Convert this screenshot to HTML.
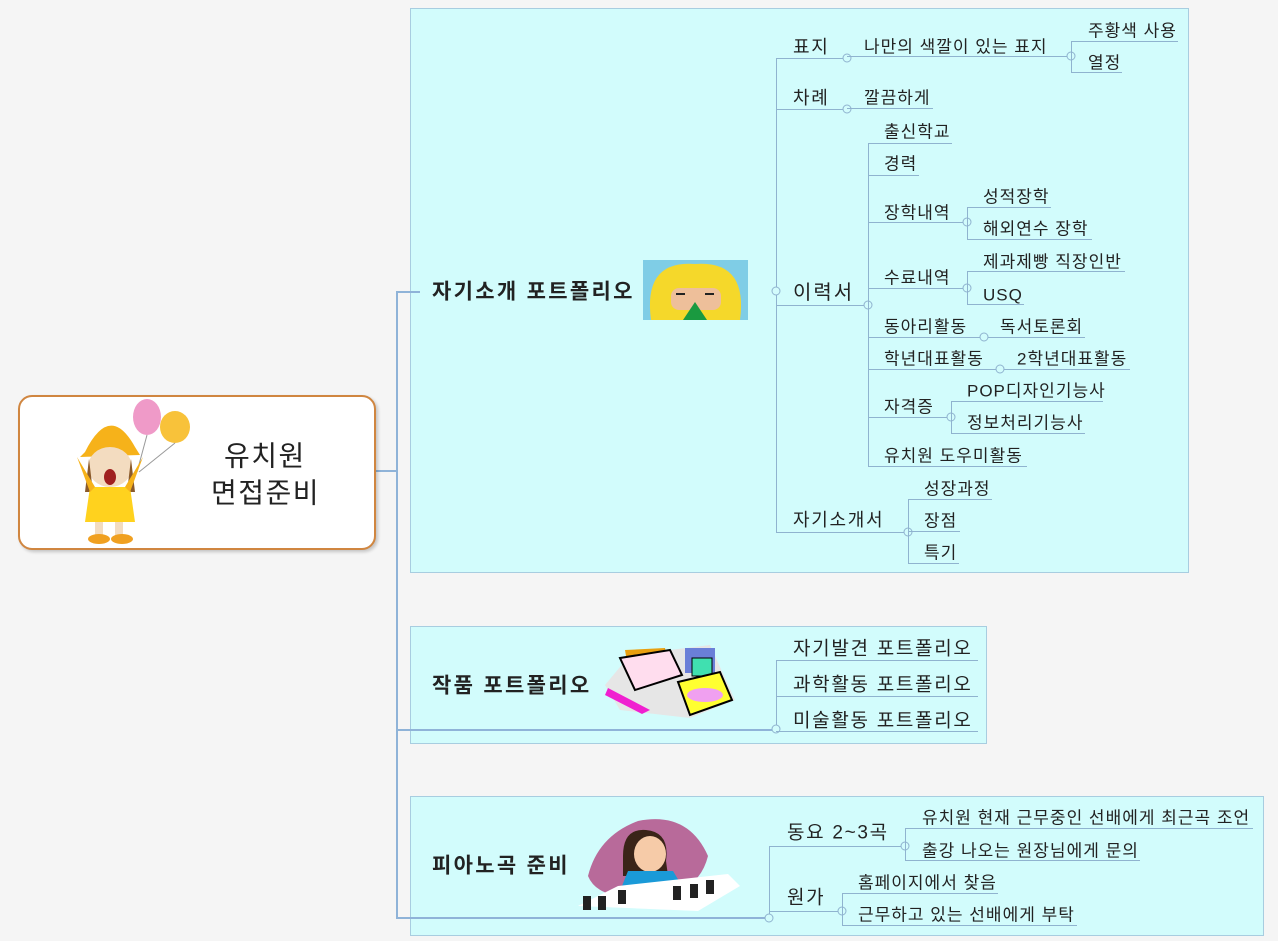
<!DOCTYPE html>
<html><head><meta charset="utf-8">
<style>
body{margin:0;width:1278px;height:941px;background:#f5f5f5;position:relative;overflow:hidden;font-family:"Liberation Sans","Noto Sans CJK KR","NanumGothic",sans-serif;color:#222}
.p{position:absolute;background:#d2fcfc;border:1px solid #a8cde0}
.t{position:absolute;transform:translateY(-45%);white-space:nowrap;font-size:17px;line-height:1;letter-spacing:1px}
.l{font-size:19px;letter-spacing:1.7px}
.h{position:absolute;height:1px;background:#8fb3cf}
.v{position:absolute;width:1px;background:#8fb3cf}
.c{position:absolute;width:7px;height:7px;border:1px solid #8fb3cf;border-radius:50%;background:#d2fcfc;transform:translate(-50%,-50%)}
.m{position:absolute;background:#8fb3d8}
.b{font-size:21px;font-weight:bold;letter-spacing:2.3px}
</style></head><body>
<div class="p" style="left:410px;top:8px;width:777px;height:563px"></div>
<div class="p" style="left:410px;top:626px;width:575px;height:116px"></div>
<div class="p" style="left:410px;top:796px;width:852px;height:138px"></div>

<div class="m" style="left:375px;top:470px;width:23px;height:2px"></div>
<div class="m" style="left:396px;top:291px;width:2px;height:628px"></div>
<div class="m" style="left:396px;top:291px;width:24px;height:2px"></div>
<div class="m" style="left:396px;top:729px;width:380px;height:2px"></div>
<div class="m" style="left:396px;top:917px;width:373px;height:2px"></div>

<div style="position:absolute;left:18px;top:395px;width:354px;height:151px;background:#fff;border:2px solid #d08640;border-radius:14px;box-shadow:2px 2px 3px rgba(0,0,0,.2)"></div>
<svg style="position:absolute;left:75px;top:397px" width="130" height="150">
<ellipse cx="72" cy="20" rx="14" ry="18" fill="#ef9ac8"/><ellipse cx="100" cy="30" rx="15" ry="16" fill="#f8c23a"/>
<line x1="72" y1="38" x2="62" y2="75" stroke="#999"/><line x1="100" y1="46" x2="64" y2="75" stroke="#999"/>
<path d="M10 55 Q35 5 60 50 L65 58 L5 60Z" fill="#f6b21a"/>
<ellipse cx="35" cy="70" rx="22" ry="20" fill="#f3dcc0"/>
<path d="M14 62 L10 95 L18 95Z M56 62 L60 95 L52 95Z" fill="#8b5a2b"/>
<ellipse cx="35" cy="80" rx="6" ry="8" fill="#a02020"/>
<path d="M15 90 L55 90 L60 125 L10 125Z" fill="#ffd21e"/>
<path d="M2 60 L15 95 L20 90Z M68 60 L55 95 L50 90Z" fill="#f6b21a"/>
<rect x="20" y="125" width="8" height="15" fill="#f3dcc0"/><rect x="40" y="125" width="8" height="15" fill="#f3dcc0"/>
<ellipse cx="24" cy="142" rx="11" ry="5" fill="#f0a020"/><ellipse cx="47" cy="142" rx="11" ry="5" fill="#f0a020"/>
</svg>
<div class="t" style="left:224px;top:455px;font-size:28px;letter-spacing:1.5px">유치원</div>
<div class="t" style="left:211px;top:492px;font-size:28px;letter-spacing:1.5px">면접준비</div>

<div class="t b" style="left:432px;top:291px">자기소개 포트폴리오</div>
<svg style="position:absolute;left:643px;top:260px" width="105" height="60">
<rect width="105" height="60" fill="#7fcde6"/>
<path d="M8 60 Q0 0 52 4 Q105 0 97 60Z" fill="#f5d82a"/>
<rect x="28" y="28" width="50" height="22" rx="8" fill="#eebf9a"/>
<path d="M40 60 L52 42 L64 60Z" fill="#1a9a40"/>
<line x1="33" y1="34" x2="42" y2="34" stroke="#222" stroke-width="2"/><line x1="62" y1="34" x2="71" y2="34" stroke="#222" stroke-width="2"/>
</svg>
<div class="v" style="left:776px;top:58px;height:474px"></div>
<div class="c" style="left:776px;top:291px"></div>
<div class="t l" style="left:793px;top:46px;font-size:18px">표지</div>
<div class="h" style="left:776px;top:58px;width:71px"></div><div class="c" style="left:847px;top:58px"></div>
<div class="t" style="left:864px;top:46px">나만의 색깔이 있는 표지</div>
<div class="h" style="left:847px;top:56px;width:224px"></div><div class="c" style="left:1071px;top:56px"></div>
<div class="v" style="left:1071px;top:41px;height:31px"></div>
<div class="t" style="left:1088px;top:30px">주황색 사용</div><div class="h" style="left:1071px;top:41px;width:107px"></div>
<div class="t" style="left:1088px;top:62px">열정</div><div class="h" style="left:1071px;top:72px;width:51px"></div>
<div class="t l" style="left:793px;top:97px;font-size:18px">차례</div>
<div class="h" style="left:776px;top:109px;width:71px"></div><div class="c" style="left:847px;top:109px"></div>
<div class="t" style="left:864px;top:97px">깔끔하게</div><div class="h" style="left:847px;top:108px;width:86px"></div>

<div class="t" style="left:793px;top:292px;font-size:20px;letter-spacing:2px">이력서</div>
<div class="h" style="left:776px;top:305px;width:91px"></div><div class="c" style="left:868px;top:305px"></div>
<div class="v" style="left:868px;top:143px;height:323px"></div>
<div class="t" style="left:884px;top:131px">출신학교</div><div class="h" style="left:868px;top:143px;width:84px"></div>
<div class="t" style="left:884px;top:163px">경력</div><div class="h" style="left:868px;top:175px;width:51px"></div>
<div class="t" style="left:884px;top:212px">장학내역</div><div class="h" style="left:868px;top:222px;width:99px"></div><div class="c" style="left:967px;top:222px"></div>
<div class="v" style="left:967px;top:207px;height:32px"></div>
<div class="t" style="left:983px;top:196px">성적장학</div><div class="h" style="left:967px;top:207px;width:84px"></div>
<div class="t" style="left:983px;top:228px">해외연수 장학</div><div class="h" style="left:967px;top:239px;width:125px"></div>
<div class="t" style="left:884px;top:277px">수료내역</div><div class="h" style="left:868px;top:288px;width:99px"></div><div class="c" style="left:967px;top:288px"></div>
<div class="v" style="left:967px;top:271px;height:33px"></div>
<div class="t" style="left:983px;top:261px">제과제빵 직장인반</div><div class="h" style="left:967px;top:271px;width:158px"></div>
<div class="t" style="left:983px;top:294px">USQ</div><div class="h" style="left:967px;top:304px;width:57px"></div>
<div class="t" style="left:884px;top:326px">동아리활동</div><div class="h" style="left:868px;top:337px;width:217px"></div><div class="c" style="left:984px;top:337px"></div>
<div class="t" style="left:1000px;top:326px">독서토론회</div>
<div class="t" style="left:884px;top:358px">학년대표활동</div><div class="h" style="left:868px;top:369px;width:262px"></div><div class="c" style="left:1000px;top:369px"></div>
<div class="t" style="left:1017px;top:358px">2학년대표활동</div>
<div class="t" style="left:884px;top:406px">자격증</div><div class="h" style="left:868px;top:417px;width:83px"></div><div class="c" style="left:951px;top:417px"></div>
<div class="v" style="left:951px;top:401px;height:32px"></div>
<div class="t" style="left:967px;top:390px">POP디자인기능사</div><div class="h" style="left:951px;top:401px;width:152px"></div>
<div class="t" style="left:967px;top:422px">정보처리기능사</div><div class="h" style="left:951px;top:433px;width:134px"></div>
<div class="t" style="left:884px;top:455px">유치원 도우미활동</div><div class="h" style="left:868px;top:466px;width:159px"></div>

<div class="t l" style="left:793px;top:519px;font-size:18px">자기소개서</div>
<div class="h" style="left:776px;top:532px;width:132px"></div><div class="c" style="left:908px;top:532px"></div>
<div class="v" style="left:908px;top:499px;height:64px"></div>
<div class="t" style="left:924px;top:488px">성장과정</div><div class="h" style="left:908px;top:499px;width:84px"></div>
<div class="t" style="left:924px;top:520px">장점</div><div class="h" style="left:908px;top:531px;width:52px"></div>
<div class="t" style="left:924px;top:552px">특기</div><div class="h" style="left:908px;top:563px;width:51px"></div>

<div class="t b" style="left:432px;top:685px">작품 포트폴리오</div>
<svg style="position:absolute;left:600px;top:640px" width="140" height="80">
<path d="M5 45 L30 15 L110 5 L135 60 L90 78 L20 70Z" fill="#e6e6e6"/>
<path d="M25 10 L65 8 L70 35 L30 40Z" fill="#e8a010"/>
<rect x="85" y="8" width="30" height="25" fill="#6a7fd8"/>
<path d="M20 18 L70 10 L82 35 L35 50Z" fill="#fde" stroke="#000" stroke-width="2"/>
<rect x="92" y="18" width="20" height="18" fill="#40e0b0" stroke="#000"/>
<path d="M78 42 L120 32 L132 60 L90 75Z" fill="#ffff30" stroke="#000" stroke-width="2"/>
<ellipse cx="105" cy="55" rx="18" ry="7" fill="#f0a0f0"/>
<path d="M8 48 L50 70 L42 74 L5 55Z" fill="#f020d0"/>
</svg>
<div class="v" style="left:776px;top:660px;height:70px"></div>
<div class="c" style="left:776px;top:729px"></div>
<div class="t l" style="left:793px;top:648px">자기발견 포트폴리오</div><div class="h" style="left:776px;top:660px;width:202px"></div>
<div class="t l" style="left:793px;top:684px">과학활동 포트폴리오</div><div class="h" style="left:776px;top:696px;width:202px"></div>
<div class="t l" style="left:793px;top:720px">미술활동 포트폴리오</div><div class="h" style="left:776px;top:731px;width:202px"></div>

<div class="t b" style="left:432px;top:865px">피아노곡 준비</div>
<svg style="position:absolute;left:578px;top:816px" width="165" height="96">
<path d="M10 60 Q20 20 60 5 Q110 -5 130 40 Q120 80 70 80 Q20 85 10 60Z" fill="#b86a9a"/>
<path d="M45 40 Q45 12 68 14 Q92 16 88 45 L90 60 L45 60Z" fill="#3a2418"/>
<ellipse cx="72" cy="38" rx="16" ry="18" fill="#f6cba8"/>
<path d="M40 80 L50 55 L95 55 L110 80Z" fill="#1a9ad8"/>
<path d="M0 90 L40 70 L150 58 L162 70 L120 95Z" fill="#fff"/>
<g fill="#222"><rect x="5" y="80" width="8" height="14"/><rect x="20" y="80" width="8" height="14"/><rect x="40" y="74" width="8" height="14"/><rect x="95" y="70" width="8" height="14"/><rect x="112" y="68" width="8" height="14"/><rect x="128" y="64" width="8" height="14"/></g>
</svg>
<div class="v" style="left:769px;top:846px;height:72px"></div>
<div class="c" style="left:769px;top:918px"></div>
<div class="t l" style="left:787px;top:832px">동요 2~3곡</div>
<div class="h" style="left:769px;top:846px;width:136px"></div><div class="c" style="left:905px;top:846px"></div>
<div class="v" style="left:905px;top:828px;height:32px"></div>
<div class="t" style="left:922px;top:817px">유치원 현재 근무중인 선배에게 최근곡 조언</div><div class="h" style="left:905px;top:828px;width:348px"></div>
<div class="t" style="left:922px;top:850px">출강 나오는 원장님에게 문의</div><div class="h" style="left:905px;top:860px;width:235px"></div>
<div class="t l" style="left:787px;top:897px">원가</div>
<div class="h" style="left:769px;top:911px;width:73px"></div><div class="c" style="left:842px;top:911px"></div>
<div class="v" style="left:842px;top:893px;height:32px"></div>
<div class="t" style="left:858px;top:882px">홈페이지에서 찾음</div><div class="h" style="left:842px;top:893px;width:156px"></div>
<div class="t" style="left:858px;top:914px">근무하고 있는 선배에게 부탁</div><div class="h" style="left:842px;top:925px;width:235px"></div>
</body></html>
